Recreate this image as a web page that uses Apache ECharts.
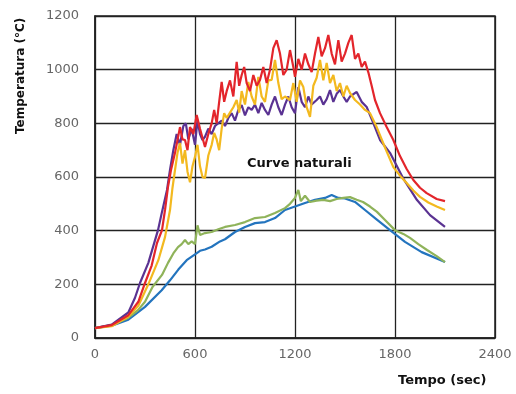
<!DOCTYPE html>
<html>
<head>
<meta charset="utf-8">
<script src="https://cdn.jsdelivr.net/npm/echarts@6/dist/echarts.min.js"></script>
<style>
  html, body { margin: 0; padding: 0; background: #fff; }
  #chart { width: 516px; height: 394px; }
</style>
</head>
<body>
<div id="chart"></div>
<script>
// tempo (sec), temperatura (°C)
const xTicks = [0, 600, 1200, 1800, 2400]
const yTicks = [0, 200, 400, 600, 800, 1000, 1200]

const red = [[0, 37], [100, 48], [200, 85], [260, 135], [300, 205], [340, 270], [372, 354], [402, 402], [420, 477], [438, 563], [456, 626], [480, 690], [510, 786], [525, 740], [540, 738], [555, 700], [570, 786], [590, 760], [610, 831], [630, 780], [660, 712], [680, 760], [700, 800], [715, 850], [730, 800], [745, 880], [760, 954], [775, 880], [790, 920], [810, 960], [830, 900], [850, 1029], [865, 940], [880, 980], [895, 1010], [910, 950], [930, 920], [950, 980], [970, 940], [990, 962], [1010, 1010], [1030, 950], [1050, 1000], [1070, 1080], [1090, 1110], [1110, 1060], [1130, 980], [1150, 1000], [1170, 1073], [1190, 1010], [1200, 973], [1220, 1040], [1240, 1000], [1260, 1060], [1280, 1020], [1300, 991], [1320, 1060], [1340, 1122], [1360, 1050], [1380, 1080], [1400, 1129], [1420, 1060], [1440, 1020], [1460, 1110], [1480, 1030], [1500, 1060], [1520, 1100], [1540, 1129], [1560, 1040], [1580, 1060], [1600, 1010], [1620, 1030], [1640, 990], [1660, 940], [1680, 887], [1710, 838], [1750, 786], [1790, 738], [1830, 678], [1870, 630], [1910, 589], [1950, 560], [1990, 540], [2050, 518], [2100, 510]]

const yellow = [[0, 37], [100, 44], [200, 80], [260, 120], [320, 200], [380, 290], [420, 376], [450, 477], [465, 560], [480, 626], [495, 690], [510, 727], [525, 650], [540, 700], [555, 620], [570, 580], [585, 640], [600, 675], [615, 720], [630, 640], [645, 600], [660, 596], [680, 680], [700, 720], [715, 764], [730, 740], [745, 700], [760, 780], [775, 838], [790, 820], [810, 840], [830, 860], [850, 887], [865, 840], [880, 920], [900, 870], [920, 954], [940, 900], [960, 870], [980, 973], [1000, 900], [1020, 880], [1040, 960], [1060, 962], [1080, 1036], [1100, 950], [1120, 890], [1140, 900], [1170, 887], [1190, 950], [1210, 880], [1230, 960], [1250, 935], [1270, 860], [1290, 824], [1310, 940], [1330, 970], [1350, 1036], [1370, 960], [1390, 1025], [1410, 950], [1430, 980], [1450, 920], [1470, 950], [1490, 900], [1510, 940], [1530, 913], [1560, 887], [1590, 870], [1620, 850], [1650, 838], [1690, 786], [1740, 710], [1790, 637], [1830, 605], [1870, 578], [1910, 550], [1950, 526], [2000, 505], [2050, 490], [2100, 477]]

const purple = [[0, 37], [100, 50], [200, 95], [240, 150], [270, 205], [320, 280], [378, 402], [402, 470], [432, 552], [450, 626], [470, 700], [490, 760], [510, 720], [530, 790], [545, 800], [560, 740], [580, 780], [600, 720], [615, 812], [630, 760], [645, 738], [660, 750], [680, 780], [700, 760], [720, 790], [740, 801], [760, 810], [780, 790], [800, 820], [820, 838], [840, 810], [860, 850], [880, 868], [900, 830], [920, 860], [940, 850], [960, 870], [980, 838], [1000, 876], [1020, 850], [1040, 831], [1060, 870], [1080, 900], [1100, 860], [1120, 831], [1140, 870], [1160, 900], [1180, 860], [1200, 838], [1220, 935], [1240, 880], [1260, 860], [1280, 900], [1300, 870], [1330, 887], [1350, 900], [1370, 870], [1390, 890], [1410, 924], [1430, 880], [1450, 910], [1470, 924], [1490, 900], [1510, 880], [1530, 900], [1570, 917], [1600, 880], [1630, 861], [1670, 801], [1710, 738], [1770, 690], [1848, 596], [1932, 514], [2010, 458], [2100, 414]]

const green = [[0, 37], [100, 48], [198, 75], [258, 104], [300, 135], [345, 190], [402, 235], [438, 280], [470, 315], [498, 339], [520, 350], [540, 365], [560, 350], [580, 360], [600, 350], [615, 420], [630, 384], [660, 391], [700, 395], [740, 405], [780, 414], [840, 421], [900, 432], [960, 447], [1020, 451], [1080, 466], [1140, 484], [1170, 500], [1200, 522], [1220, 552], [1235, 510], [1260, 530], [1290, 507], [1330, 512], [1370, 515], [1410, 510], [1450, 518], [1490, 522], [1530, 525], [1570, 515], [1608, 507], [1650, 490], [1692, 470], [1740, 440], [1800, 402], [1850, 388], [1890, 373], [1940, 350], [1992, 328], [2050, 305], [2100, 283]]

const blue = [[0, 37], [100, 46], [200, 68], [300, 116], [400, 178], [450, 215], [500, 255], [550, 290], [600, 312], [630, 325], [660, 330], [700, 340], [750, 360], [780, 368], [840, 395], [900, 414], [960, 428], [1020, 432], [1080, 447], [1140, 477], [1200, 490], [1260, 503], [1320, 515], [1380, 522], [1420, 533], [1460, 522], [1500, 520], [1560, 507], [1620, 477], [1680, 447], [1770, 402], [1860, 358], [1960, 320], [2100, 283]]

const chart = echarts.init(document.getElementById('chart'))

function curve (data, color) {
  return {
    type: 'line',
    data: data,
    showSymbol: false,
    silent: true,
    lineStyle: { color: color, width: 2.2 },
    itemStyle: { color: color }
  }
}

const labelStyle = { fontFamily: 'DejaVu Sans', fontSize: 13, color: '#666', formatter: v => String(v) }

const option = {
  animation: false,
  backgroundColor: '#fff',
  grid: { left: 95, right: 21, top: 16, bottom: 56, show: true, borderColor: '#222', borderWidth: 1.5 },
  xAxis: {
    type: 'value',
    min: xTicks[0],
    max: xTicks[xTicks.length - 1],
    interval: 600,
    axisLine: { show: true, lineStyle: { color: '#222', width: 1.5 } },
    axisTick: { show: false },
    axisLabel: Object.assign({ margin: 10 }, labelStyle),
    splitLine: { show: true, lineStyle: { color: '#222', width: 1.3 } }
  },
  yAxis: {
    type: 'value',
    min: yTicks[0],
    max: yTicks[yTicks.length - 1],
    interval: 200,
    axisLine: { show: true, lineStyle: { color: '#222', width: 1.5 } },
    axisTick: { show: false },
    axisLabel: Object.assign({ margin: 16 }, labelStyle),
    splitLine: { show: true, lineStyle: { color: '#222', width: 1.3 } }
  },
  series: [
    curve(blue, '#2374be'),
    curve(green, '#8fb35a'),
    curve(purple, '#5a3292'),
    curve(yellow, '#f3b91f'),
    curve(red, '#e3252b')
  ],
  graphic: [
    {
      type: 'text',
      left: 247,
      top: 157,
      style: { text: 'Curve naturali', font: 'bold 13px "DejaVu Sans"', fill: '#111' }
    },
    {
      type: 'text',
      left: 398,
      top: 374,
      style: { text: 'Tempo (sec)', font: 'bold 13px "DejaVu Sans"', fill: '#111' }
    },
    {
      type: 'text',
      x: 15,
      y: 134,
      rotation: Math.PI / 2,
      style: { text: 'Temperatura (°C)', font: 'bold 12px "DejaVu Sans"', fill: '#111', align: 'left', verticalAlign: 'top' }
    }
  ]
}

chart.setOption(option)
</script>
</body>
</html>
